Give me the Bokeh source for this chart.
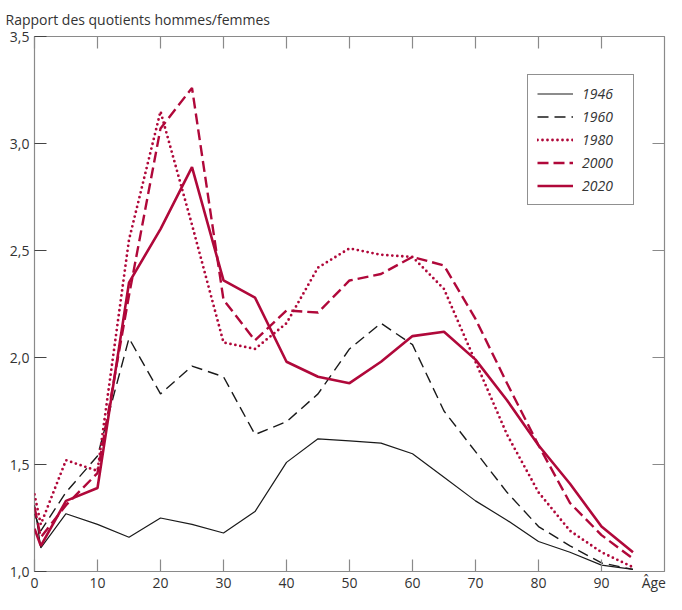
from bokeh.plotting import figure
from bokeh.models import (Range1d, FixedTicker, LinearAxis, Legend, LegendItem)
from bokeh.embed import file_html
from bokeh.resources import INLINE

# ---- data ----
ages = [0, 1, 5, 10, 15, 20, 25, 30, 35, 40, 45, 50, 55, 60, 65, 70, 75, 80, 85, 90, 95]
y1946 = [1.31, 1.11, 1.27, 1.22, 1.16, 1.25, 1.22, 1.18, 1.28, 1.51, 1.62, 1.61, 1.60, 1.55, 1.44, 1.33, 1.24, 1.14, 1.09, 1.03, 1.01]
y1960 = [1.27, 1.19, 1.37, 1.54, 2.09, 1.83, 1.96, 1.91, 1.64, 1.70, 1.83, 2.04, 2.16, 2.06, 1.75, 1.56, 1.37, 1.21, 1.12, 1.04, 1.01]
y1980 = [1.36, 1.22, 1.52, 1.47, 2.55, 3.15, 2.62, 2.07, 2.04, 2.16, 2.42, 2.51, 2.48, 2.47, 2.32, 1.98, 1.64, 1.37, 1.19, 1.09, 1.02]
y2000 = [1.30, 1.16, 1.31, 1.46, 2.29, 3.07, 3.26, 2.27, 2.08, 2.22, 2.21, 2.36, 2.39, 2.47, 2.43, 2.18, 1.88, 1.59, 1.32, 1.17, 1.06]
y2020 = [1.20, 1.12, 1.33, 1.39, 2.35, 2.60, 2.89, 2.36, 2.28, 1.98, 1.91, 1.88, 1.98, 2.10, 2.12, 1.99, 1.80, 1.59, 1.41, 1.21, 1.09]
series_labels = ["1946", "1960", "1980", "2000", "2020"]
x_ticks = [0, 10, 20, 30, 40, 50, 60, 70, 80, 90]
x_tick_labels = ["0", "10", "20", "30", "40", "50", "60", "70", "80", "90"]
y_ticks = [1.0, 1.5, 2.0, 2.5, 3.0, 3.5]
y_tick_labels = ["1,0", "1,5", "2,0", "2,5", "3,0", "3,5"]
title_text = "Rapport des quotients hommes/femmes"
x_label = "Âge"
x_label_pos = 98.3

FONT = "Open Sans"
FS = "14px"
RED = "#B0083A"
DARK = "#1a1a1a"
SPINE = "#8a8a8a"
TXT = "#333333"

p = figure(width=666, height=594, output_backend="svg", toolbar_location=None,
           x_range=Range1d(0, 100), y_range=Range1d(1.0, 3.5),
           min_border_left=34, min_border_right=2, min_border_top=35, min_border_bottom=18,
           x_axis_location=None, y_axis_location=None)
p.grid.visible = False
p.outline_line_color = SPINE
p.outline_line_width = 1.2
p.background_fill_color = "white"
p.border_fill_color = "white"

p.title.text = title_text
p.title.text_font = FONT
p.title.text_font_size = FS
p.title.text_font_style = "normal"
p.title.text_color = TXT
p.title.align = "left"
p.title.offset = -29
p.title.standoff = 15


def tick_axis(ticks, color):
    """axis that only draws inward tick marks"""
    ax = LinearAxis(ticker=FixedTicker(ticks=ticks))
    ax.axis_line_color = None
    ax.major_tick_in = 12
    ax.major_tick_out = 0
    ax.major_tick_line_color = color
    ax.major_tick_line_width = 1.2
    ax.minor_tick_line_color = None
    ax.major_label_text_font_size = "1px"
    ax.major_label_text_color = None
    ax.major_label_standoff = 0
    return ax


def label_axis(ticks, overrides, standoff):
    """axis that only draws tick labels"""
    ax = LinearAxis(ticker=FixedTicker(ticks=ticks))
    ax.axis_line_color = None
    ax.major_tick_line_color = None
    ax.major_tick_in = 0
    ax.major_tick_out = 0
    ax.minor_tick_line_color = None
    ax.major_label_text_font = FONT
    ax.major_label_text_font_size = FS
    ax.major_label_text_color = TXT
    ax.major_label_standoff = standoff
    ax.major_label_overrides = overrides
    return ax


# bottom: tick marks, then labels (incl. "Âge")
p.add_layout(tick_axis(x_ticks, SPINE), "below")
xlab = dict(zip(x_ticks, x_tick_labels))
xlab[x_label_pos] = x_label
p.add_layout(label_axis(x_ticks + [x_label_pos], xlab, 1), "below")

# left: ticks + labels
yax = tick_axis(y_ticks, "#444444")
yax.major_label_text_font = FONT
yax.major_label_text_font_size = FS
yax.major_label_text_color = TXT
yax.major_label_standoff = 5
yax.major_label_overrides = dict(zip(y_ticks, y_tick_labels))
p.add_layout(yax, "left")

# top / right: tick marks only
p.add_layout(tick_axis(x_ticks, SPINE), "above")
p.add_layout(tick_axis(y_ticks, SPINE), "right")

r1 = p.line(ages, y1946, line_color=DARK, line_width=1.2)
r2 = p.line(ages, y1960, line_color=DARK, line_width=1.4, line_dash="11 6")
r3 = p.line(ages, y1980, line_color=RED, line_width=2.8, line_dash="0 5", line_cap="round")
r4 = p.line(ages, y2000, line_color=RED, line_width=2.4, line_dash="11 5")
r5 = p.line(ages, y2020, line_color=RED, line_width=2.6)

legend = Legend(items=[LegendItem(label=l, renderers=[r]) for l, r in
                       zip(series_labels, [r1, r2, r3, r4, r5])],
                location=(493, 366))
legend.label_text_font = FONT
legend.label_text_font_size = FS
legend.label_text_font_style = "italic"
legend.label_text_color = TXT
legend.glyph_width = 36
legend.glyph_height = 17
legend.label_height = 17
legend.label_width = 42
legend.label_standoff = 9
legend.spacing = 4
legend.padding = 9
legend.margin = 0
legend.border_line_color = "#222222"
legend.border_line_width = 1
legend.background_fill_alpha = 1
p.add_layout(legend, "center")

open("out.html", "w").write(file_html(p, INLINE))
